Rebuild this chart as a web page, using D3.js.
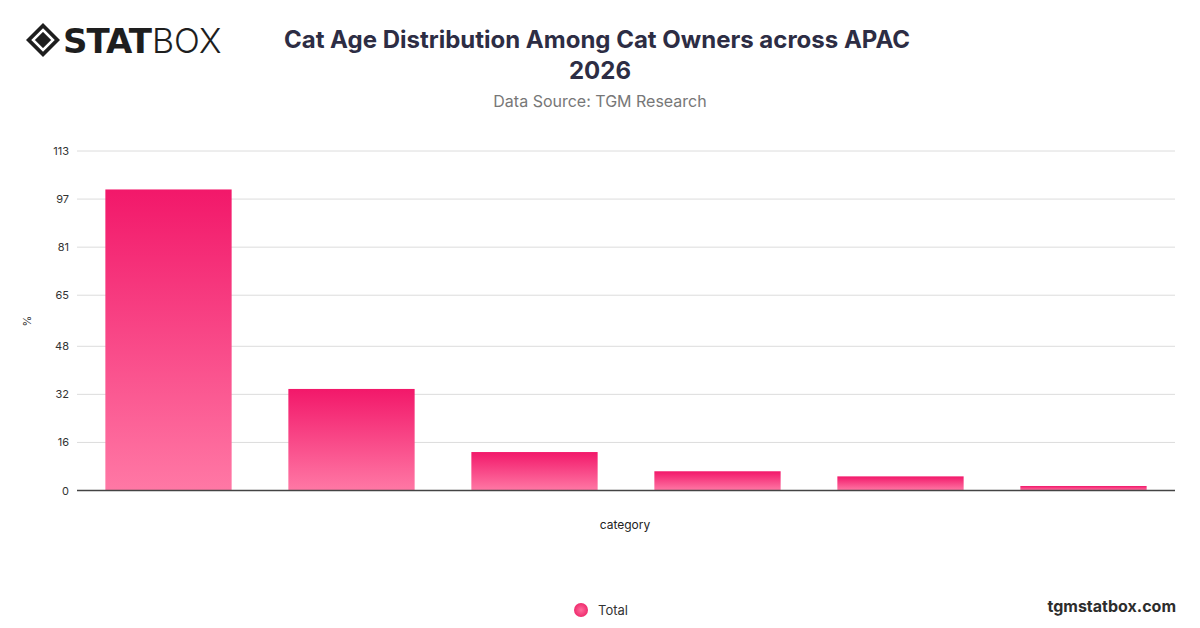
<!DOCTYPE html>
<html><head><meta charset="utf-8">
<script src="https://cdn.jsdelivr.net/npm/d3@7"></script>
<style>body{margin:0;background:#fff;font-family:Inter,"Open Sans",sans-serif}</style>
</head><body><svg id="c" width="1200" height="628"></svg>
<script>
const categories = ["Under 1 year","1-3 years","4-6 years","7-10 years","11-14 years","15+ years"];
const values = [100.2, 33.8, 12.8, 6.4, 4.7, 1.5];
const tickLabels = [0,16,32,48,65,81,97,113];
const seriesName = "Total";

const svg = d3.select("#c");
const defs = svg.append("defs");
const g = defs.append("linearGradient").attr("id","grad").attr("x1",0).attr("y1",0).attr("x2",0).attr("y2",1);
g.append("stop").attr("offset","0%").attr("stop-color","#f2186a");
g.append("stop").attr("offset","100%").attr("stop-color","#ff78a5");
const lg = defs.append("radialGradient").attr("id","lg");
lg.append("stop").attr("offset","0%").attr("stop-color","#ff6c9c");
lg.append("stop").attr("offset","100%").attr("stop-color","#ef2c6e");

const L=77,R=1175,T=151,B=490.5;
const x = d3.scaleBand().domain(categories).range([L,R]).paddingInner(0.31).paddingOuter(0.155);
const y = d3.scaleLinear().domain([0,113]).range([B,T]);

// gridlines
svg.append("g").selectAll("line").data(tickLabels).join("line")
 .attr("x1",L).attr("x2",R).attr("y1",d=>y(d)+0.5*0).attr("y2",d=>y(d))
 .attr("stroke","#dcdcdc").attr("stroke-width",1);
svg.append("g").selectAll("text").data(tickLabels).join("text")
 .attr("x",L-8).attr("y",d=>y(d)+4).attr("text-anchor","end")
 .attr("font-size",11).attr("fill","#333").text(d=>d);

svg.append("g").selectAll("rect").data(values).join("rect")
 .attr("x",(d,i)=>x(categories[i])).attr("width",x.bandwidth())
 .attr("y",d=>y(d)).attr("height",d=>B-y(d)).attr("fill","url(#grad)");

svg.append("line").attr("x1",L).attr("x2",R).attr("y1",B).attr("y2",B).attr("stroke","#444").attr("stroke-width",1.5);

svg.append("text").attr("x",625).attr("y",529).attr("text-anchor","middle").attr("font-size",12).attr("fill","#222").text("category");
svg.append("text").attr("transform","translate(31,321) rotate(-90)").attr("text-anchor","middle").attr("font-size",11).attr("fill","#333").text("%");

// title
svg.append("text").attr("x",597).attr("y",48).attr("text-anchor","middle").attr("font-size",24).attr("font-weight",700).attr("fill","#2d2d44").text("Cat Age Distribution Among Cat Owners across APAC");
svg.append("text").attr("x",600).attr("y",79).attr("text-anchor","middle").attr("font-size",24).attr("font-weight",700).attr("fill","#2d2d44").text("2026");
svg.append("text").attr("x",600).attr("y",107).attr("text-anchor","middle").attr("font-size",16).attr("fill","#777").text("Data Source: TGM Research");

// legend
svg.append("circle").attr("cx",581).attr("cy",610).attr("r",7).attr("fill","url(#lg)");
svg.append("text").attr("x",598).attr("y",615).attr("font-size",13).attr("fill","#333").text(seriesName);
svg.append("text").attr("x",1176).attr("y",612).attr("text-anchor","end").attr("font-size",16).attr("font-weight",700).attr("fill","#2d2d2d").text("tgmstatbox.com");

// logo
const lgG = svg.append("g").attr("transform","translate(43,40)");
lgG.append("path").attr("d","M0,-17 L17,0 L0,17 L-17,0Z").attr("fill","#1e1e1e");
lgG.append("path").attr("d","M0,-10 L10,0 L0,10 L-10,0Z").attr("fill","none").attr("stroke","#fff").attr("stroke-width",2.5);
lgG.append("path").attr("d","M0,-5 L5,0 L0,5 L-5,0Z").attr("fill","#1e1e1e");
svg.append("text").attr("x",63).attr("y",53).attr("font-size",34).attr("font-weight",900).attr("fill","#1e1e1e").attr("font-family","'DejaVu Sans',sans-serif").attr("letter-spacing",-1).text("STAT");
svg.append("text").attr("x",152).attr("y",53).attr("font-size",34).attr("font-weight",300).attr("fill","#1e1e1e").attr("font-family","Inter,sans-serif").text("BOX");
</script></body></html>
